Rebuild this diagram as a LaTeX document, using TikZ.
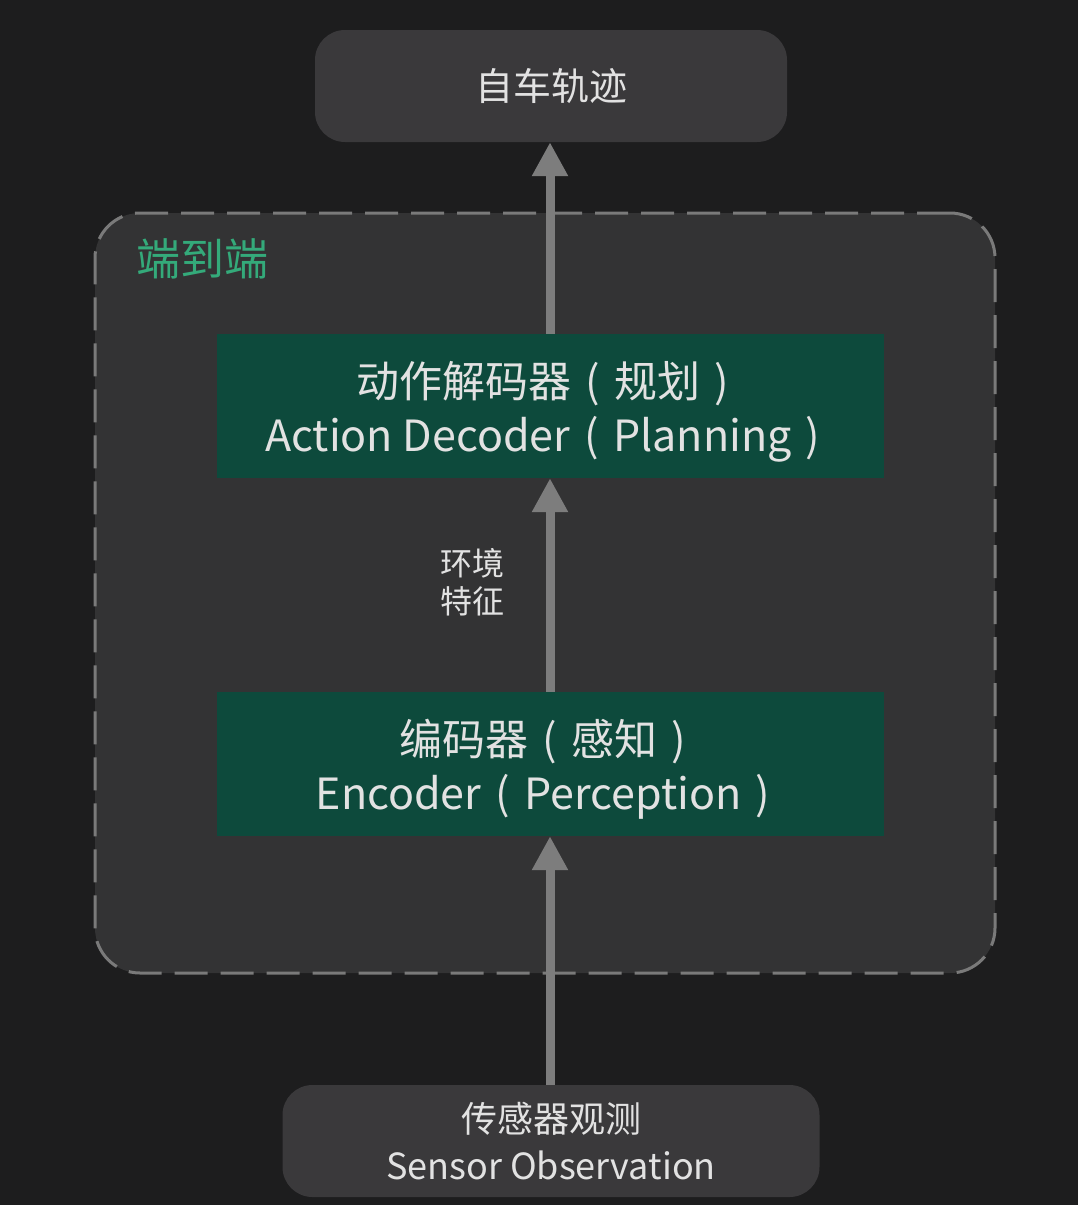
\documentclass[tikz,border=0pt]{standalone}
\usepackage{fontspec}
\setmainfont{Noto Sans CJK SC}
\usetikzlibrary{arrows.meta}
\definecolor{BgDark}{RGB}{29,29,30}
\definecolor{BoxGrey}{RGB}{58,57,59}
\definecolor{FrameGrey}{RGB}{51,51,52}
\definecolor{DashGrey}{RGB}{122,122,122}
\definecolor{StageGreen}{RGB}{13,74,60}
\definecolor{LabelGreen}{RGB}{52,170,122}
\definecolor{TextLight}{RGB}{226,226,226}
\definecolor{FlowGrey}{RGB}{125,125,125}
% centred parentheses, one em wide
\newcommand{\openp}{\makebox[1em]{(}}
\newcommand{\closep}{\makebox[1em]{)}}
\newcommand{\stagestrut}{\rule{0pt}{47pt}}

\begin{document}
\begin{tikzpicture}[x=1pt,y=-1pt,
    endpoint/.style={fill=BoxGrey,rounded corners=30pt,
            text=TextLight,align=center,inner sep=0pt,
            minimum width=#1,minimum height=112pt},
    stage/.style={fill=StageGreen,text=TextLight,align=center,
            inner sep=0pt,minimum width=667pt,minimum height=144pt,
            font=\fontsize{43}{54}\selectfont},
    flow/.style={draw=FlowGrey,line width=9pt,
            -{Triangle[width=34pt,length=34pt]}}]
    % background and frame
    \fill[BgDark] (0,0) rectangle (1078,1205);
    \node[fill=FrameGrey,draw=DashGrey,line width=3pt,
          dash pattern=on 33pt off 13pt,rounded corners=45pt,
          minimum width=900pt,minimum height=760pt] (e2e) at (545,593) {};
    \node[anchor=west,text=LabelGreen,inner sep=0pt,
          font=\fontsize{44}{44}\selectfont] (e2elabel) at (136,259) {端到端};
    % nodes
    \node[endpoint=472pt,font=\fontsize{38}{38}\selectfont] (traj) at (551,86) {自车轨迹};
    \node[stage] (decoder) at (550,406)
          {\stagestrut 动作解码器\openp 规划\closep\\Action Decoder\openp Planning\closep};
    \node[stage] (encoder) at (550,764)
          {\stagestrut 编码器\openp 感知\closep\\Encoder\openp Perception\closep};
    \node[endpoint=537pt,font=\fontsize{36}{47}\selectfont] (sensor) at (551,1141)
          {传感器观测\\Sensor Observation};
    \node[text=TextLight,align=center,inner sep=0pt,
          font=\fontsize{32}{38}\selectfont] (feat) at (472,582) {环境\\特征};
    % connectors
    \draw[flow] (sensor.north -| 550,0) -- (encoder.south);
    \draw[flow] (encoder.north) -- (decoder.south);
    \draw[flow] (decoder.north) -- (traj.south -| 550,0);
\end{tikzpicture}
\end{document}
